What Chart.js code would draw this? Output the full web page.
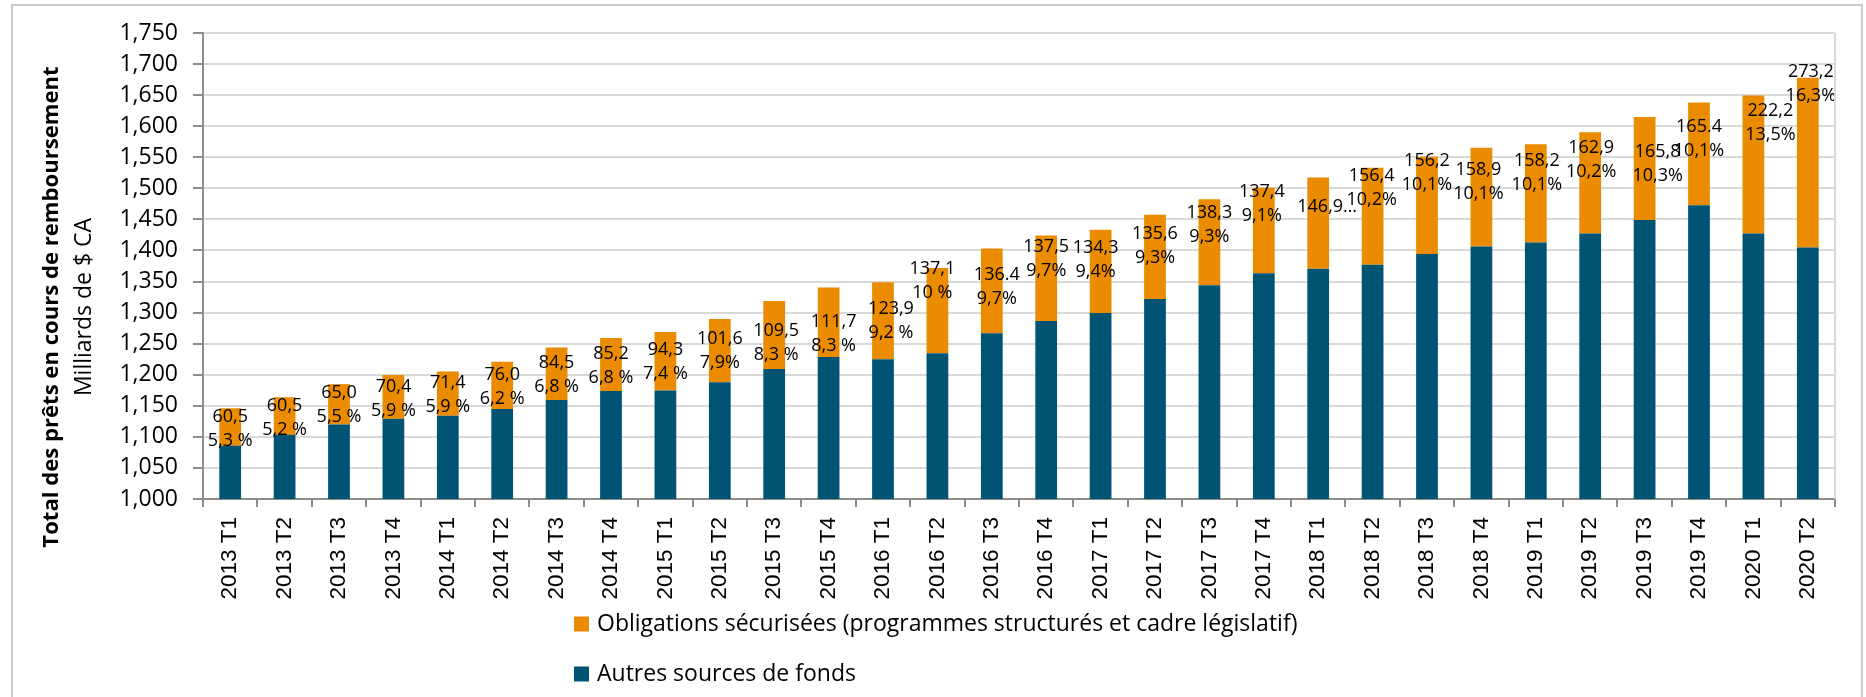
<!DOCTYPE html>
<html lang="fr">
<head>
<meta charset="utf-8">
<title>Total des prêts en cours de remboursement</title>
<script src="https://cdn.jsdelivr.net/npm/chart.js@4.4.1/dist/chart.umd.min.js"></script>
<style>
  html, body { margin: 0; padding: 0; background: #fff; }
  #wrap { position: relative; width: 1866px; height: 697px; }
</style>
</head>
<body>
<div id="wrap"><canvas id="chart"></canvas></div>
<script>
// ── Data ──────────────────────────────────────────────────────────────────────
const categories = [
  '2013 T1', '2013 T2', '2013 T3', '2013 T4', '2014 T1', '2014 T2', '2014 T3', '2014 T4',
  '2015 T1', '2015 T2', '2015 T3', '2015 T4', '2016 T1', '2016 T2', '2016 T3', '2016 T4',
  '2017 T1', '2017 T2', '2017 T3', '2017 T4', '2018 T1', '2018 T2', '2018 T3', '2018 T4',
  '2019 T1', '2019 T2', '2019 T3', '2019 T4', '2020 T1', '2020 T2'
];
// Autres sources de fonds (milliards $ CA)
const autresSources = [
  1085.6, 1103.3, 1119.9, 1129.0, 1133.8, 1145.0, 1159.5, 1174.0,
  1174.5, 1187.9, 1209.3, 1228.5, 1224.8, 1234.5, 1266.6, 1286.4,
  1299.2, 1321.7, 1344.2, 1363.4, 1370.7, 1376.9, 1394.5, 1406.3,
  1412.7, 1427.2, 1449.2, 1472.6, 1427.2, 1404.7
];
// Obligations sécurisées (milliards $ CA)
const obligations = [
  60.5, 60.5, 65.0, 70.4, 71.4, 76.0, 84.5, 85.2,
  94.3, 101.6, 109.5, 111.7, 123.9, 137.1, 136.4, 137.5,
  134.3, 135.6, 138.3, 137.4, 146.9, 156.4, 156.2, 158.9,
  158.2, 162.9, 165.8, 165.4, 222.2, 273.2
];
// Étiquettes telles qu'affichées
const valueLabels = [
  '60,5', '60,5', '65,0', '70,4', '71,4', '76,0', '84,5', '85,2',
  '94,3', '101,6', '109,5', '111,7', '123,9', '137,1', '136.4', '137,5',
  '134,3', '135,6', '138,3', '137,4', '146,9…', '156,4', '156,2', '158,9',
  '158,2', '162,9', '165,8', '165.4', '222,2', '273,2'
];
const shareLabels = [
  '5,3 %', '5,2 %', '5,5 %', '5,9 %', '5,9 %', '6,2 %', '6,8 %', '6,8 %',
  '7,4 %', '7,9%', '8,3 %', '8,3 %', '9,2 %', '10 %', '9,7%', '9,7%',
  '9,4%', '9,3%', '9,3%', '9,1%', null, '10,2%', '10,1%', '10,1%',
  '10,1%', '10,2%', '10,3%', '10,1%', '13,5%', '16,3%'
];
const yTicks = { min: 1000, max: 1750, step: 50 };

// ── Layout (label nudges in px, from segment centre) ─────────────────────────
const labelNudge = [
  [0, 2], [0, 2], [0, 1], [0, 2], [0, 1], [0, 2], [0, 1], [0, 1],
  [0, 1], [0, 0], [2, 8], [5, 12], [8, 0], [-5, -30], [5, -4], [0, -19],
  [-5, -11], [0, -11], [0, -17], [-2, -27], [9, -16], [-1, -28], [0, -32], [-3, -15],
  [1, -21], [1, -23], [13, -5], [0, -15], [17, -42], [3, -79]
];

const BLUE = '#005473';
const ORANGE = '#EB8C00';
const AXIS = '#8c8c8c';
const GRID = '#d9d9d9';
const FONT = "'Open Sans', sans-serif";

// ── Plugins ───────────────────────────────────────────────────────────────────
const framePlugin = {
  id: 'frame',
  beforeDraw(chart) {
    const { ctx, width, height } = chart;
    ctx.save();
    ctx.fillStyle = '#fff';
    ctx.fillRect(0, 0, width, height);
    ctx.strokeStyle = '#cacaca';
    ctx.lineWidth = 2;
    ctx.strokeRect(12, 5, 1850, height + 10);
    ctx.restore();
  },
  afterDraw(chart) {
    const { ctx, chartArea: a } = chart;
    ctx.save();
    // right edge of plot area
    ctx.strokeStyle = GRID;
    ctx.lineWidth = 2;
    ctx.beginPath();
    ctx.moveTo(a.right, a.top);
    ctx.lineTo(a.right, a.bottom);
    ctx.stroke();

    // y axis titles
    ctx.fillStyle = '#000';
    ctx.textAlign = 'center';
    ctx.textBaseline = 'middle';
    ctx.translate(52, 307);
    ctx.rotate(-Math.PI / 2);
    ctx.font = `bold 22.1px ${FONT}`;
    ctx.fillText('Total des prêts en cours de remboursement', 0, 0);
    ctx.font = `23px ${FONT}`;
    ctx.fillText('Milliards de $ CA', 0, 32);
    ctx.restore();

    // legend (stacked, orange first)
    const items = [chart.data.datasets[1], chart.data.datasets[0]];
    ctx.save();
    ctx.font = `23px ${FONT}`;
    ctx.textBaseline = 'middle';
    ctx.textAlign = 'left';
    items.forEach((ds, k) => {
      const y = 624 + k * 50;
      ctx.fillStyle = ds.backgroundColor;
      ctx.fillRect(574, y - 7.5, 15, 15);
      ctx.fillStyle = '#000';
      ctx.fillText(ds.label, 597, y);
    });
    ctx.restore();
  }
};

const labelPlugin = {
  id: 'segLabels',
  afterDatasetsDraw(chart) {
    const { ctx } = chart;
    const meta = chart.getDatasetMeta(1);
    ctx.save();
    ctx.font = `18px ${FONT}`;
    ctx.fillStyle = '#000';
    ctx.textAlign = 'center';
    ctx.textBaseline = 'middle';
    meta.data.forEach((bar, i) => {
      const [dx, dy] = labelNudge[i];
      const x = bar.x + dx;
      const mid = (bar.y + bar.base) / 2 + dy;
      if (shareLabels[i]) {
        ctx.fillText(valueLabels[i], x, mid - 12);
        ctx.fillText(shareLabels[i], x, mid + 12);
      } else {
        ctx.fillText(valueLabels[i], x, mid);
      }
    });
    ctx.restore();
  }
};

// ── Chart ─────────────────────────────────────────────────────────────────────
Chart.defaults.font.family = FONT;
Chart.defaults.color = '#000';

new Chart(document.getElementById('chart'), {
  type: 'bar',
  data: {
    labels: categories,
    datasets: [
      {
        label: 'Autres sources de fonds',
        data: autresSources,
        backgroundColor: BLUE,
        barPercentage: 0.4,
        categoryPercentage: 1
      },
      {
        label: 'Obligations sécurisées (programmes structurés et cadre législatif)',
        data: obligations,
        backgroundColor: ORANGE,
        barPercentage: 0.4,
        categoryPercentage: 1
      }
    ]
  },
  options: {
    responsive: true,
    maintainAspectRatio: false,
    animation: false,
    layout: { padding: { top: 33, right: 31, bottom: 0, left: 0 } },
    plugins: {
      legend: { display: false },
      tooltip: { enabled: false }
    },
    scales: {
      x: {
        stacked: true,
        offset: true,
        grid: {
          offset: true,
          drawOnChartArea: false,
          tickLength: 8,
          tickColor: AXIS,
          lineWidth: 2
        },
        border: { color: AXIS, width: 2 },
        ticks: {
          minRotation: 90,
          maxRotation: 90,
          padding: 10,
          font: { family: "'Liberation Sans', Arial, sans-serif", size: 22.5 }
        },
        afterFit(s) { s.height = 198; }
      },
      y: {
        stacked: true,
        min: yTicks.min,
        max: yTicks.max,
        grid: { color: GRID, lineWidth: 2, tickLength: 10, tickColor: AXIS },
        border: { color: AXIS, width: 2 },
        ticks: {
          stepSize: yTicks.step,
          padding: 15,
          font: { size: 23 },
          callback: v => v.toLocaleString('en-US')
        },
        afterFit(s) { s.width = 203; }
      }
    }
  },
  plugins: [framePlugin, labelPlugin]
});
</script>
</body>
</html>
